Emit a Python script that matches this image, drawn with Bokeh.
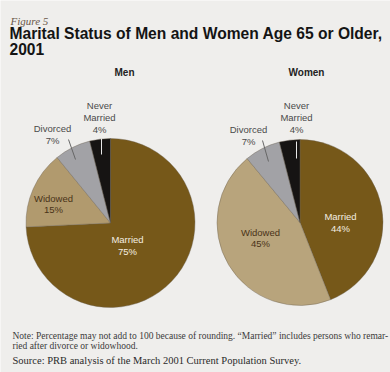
import math
from bokeh.plotting import figure
from bokeh.models import Range1d, ColumnDataSource
from bokeh.core.properties import value
from bokeh.embed import file_html
from bokeh.resources import INLINE

# ---- data ----
categories = ["Married", "Widowed", "Divorced", "Never Married"]
men_pct = [75, 15, 7, 4]
women_pct = [44, 45, 7, 4]
panel_titles = ["Men", "Women"]
title_line1 = "Marital Status of Men and Women Age 65 or Older,"
title_line2 = "2001"
figure_label = "Figure 5"
note_lines = ["Note: Percentage may not add to 100 because of rounding. \u201cMarried\u201d includes persons who remar-",
              "ried after divorce or widowhood."]
source_line = "Source: PRB analysis of the March 2001 Current Population Survey."

# ---- styling / layout ----
W, H = 390, 372
BG = "#efeeec"
men_colors = ["#765819", "#b19a6e", "#a2a2a6", "#161413"]
women_colors = ["#765819", "#b8a47c", "#a2a2a6", "#161413"]
label_colors = ["#f4eee2", "#4a3318", "#4a4a4a", "#4a4a4a"]

def Y(py):
    return H - py

p = figure(width=W, height=H, x_range=Range1d(0, W), y_range=Range1d(0, H),
           output_backend="svg", toolbar_location=None, min_border=0,
           background_fill_color=BG, border_fill_color=BG)
p.axis.visible = False
p.grid.visible = False
p.outline_line_color = None

pies = [
    dict(vals=men_pct, colors=men_colors, cx=110, cy=222.5, r=84.5,
         lab=[(127, 245), (53, 203.5), (52, 134), (99, 117)],
         lead=[None, None, ((68, 139), (75, 159)), ((101, 138), (101, 154))]),
    dict(vals=women_pct, colors=women_colors, cx=299.5, cy=222, r=83,
         lab=[(340, 222), (260, 237.5), (248, 135), (296, 117)],
         lead=[None, None, ((262, 140), (268, 161)), ((296, 141), (296, 158))]),
]

for k, pie in enumerate(pies):
    vals = pie["vals"]
    tot = float(sum(vals))
    cum = 0.0
    starts, ends = [], []
    for v in vals:
        starts.append(math.pi / 2 - 2 * math.pi * cum / tot)
        cum += v
        ends.append(math.pi / 2 - 2 * math.pi * cum / tot)
    src = ColumnDataSource(dict(x=[pie["cx"]] * len(vals), y=[Y(pie["cy"])] * len(vals),
                                start=starts, end=ends, color=pie["colors"]))
    p.wedge(x="x", y="y", radius=pie["r"], start_angle="start", end_angle="end",
            direction="clock", fill_color="color", line_color="#6b6050",
            line_width=0.4, source=src)
    # leader lines
    for ld in pie["lead"]:
        if ld is None:
            continue
        (x0, y0), (x1, y1) = ld
        col = "#e8e8e8" if ld is pie["lead"][3] else "#666666"
        p.segment(x0=[x0], y0=[Y(y0)], x1=[x1], y1=[Y(y1)], line_color=col, line_width=1)
    # labels
    texts = [c.replace(" ", "\n") + "\n" + f"{v}%" for c, v in zip(categories, vals)]
    lsrc = ColumnDataSource(dict(x=[a for a, b in pie["lab"]], y=[Y(b) for a, b in pie["lab"]],
                                 t=texts, c=label_colors))
    p.text(x="x", y="y", text="t", text_color="c", source=lsrc,
           text_font=value("Liberation Sans"), text_font_size="9.5px",
           text_align="center", text_baseline="middle", text_line_height=1.05)
    # panel title
    p.text(x=[[124, 306][k]], y=[Y(72)], text=[panel_titles[k]],
           text_font=value("Liberation Sans"), text_font_style="bold",
           text_font_size="10px", text_color="#222222",
           text_align="center", text_baseline="middle")

# headers
p.text(x=[10], y=[Y(20)], text=[figure_label], text_font=value("Liberation Serif"),
       text_font_style="italic", text_font_size="11px", text_color="#6a5848",
       text_baseline="middle")
p.text(x=[9], y=[Y(33)], text=[title_line1], text_font=value("Liberation Sans"),
       text_font_style="bold", text_font_size="15.6px", text_color="#141414",
       text_baseline="middle")
p.text(x=[9], y=[Y(48)], text=[title_line2], text_font=value("Liberation Sans"),
       text_font_style="bold", text_font_size="15.6px", text_color="#141414",
       text_baseline="middle")

# notes
p.text(x=[12, 12], y=[Y(335), Y(345)], text=note_lines, text_font=value("Liberation Serif"),
       text_font_size="9.5px", text_color="#3a3a3a", text_baseline="middle")
p.text(x=[12], y=[Y(360)], text=[source_line], text_font=value("Liberation Serif"),
       text_font_size="10.5px", text_color="#2a2a2a", text_baseline="middle")

open("out.html", "w").write(file_html(p, INLINE))
